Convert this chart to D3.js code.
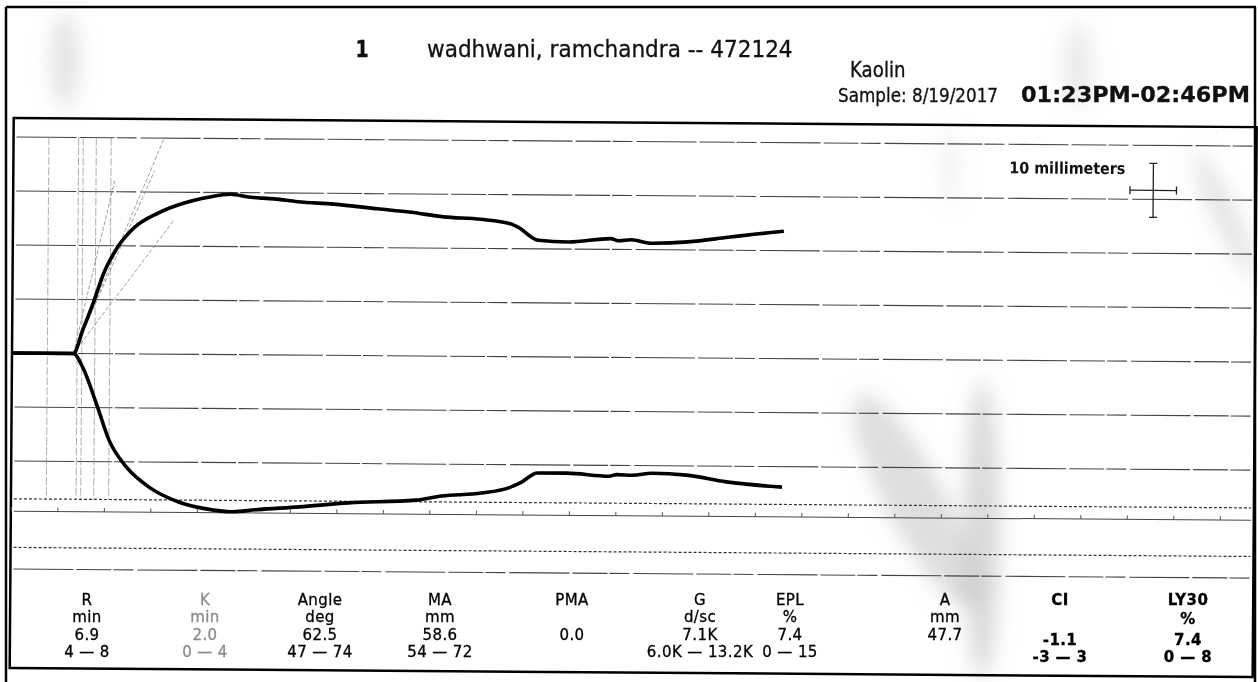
<!DOCTYPE html>
<html>
<head>
<meta charset="utf-8">
<script src="https://cdn.jsdelivr.net/npm/d3@7"></script>
<style>
    body { margin: 0; background: #fff; }
    svg { display: block; }
    text { font-family: "DejaVu Sans", Verdana, sans-serif; fill: #111; }
</style>
</head>
<body>
<svg width="1258" height="682"></svg>
<script>
// trace readings: minutes from start, amplitude in mm (+ up / - down)
const upperTime = [0, 6.6, 7.6, 8.7, 9.8, 11.3, 13.0, 15.6, 18.4, 21.0, 23.4, 25.3, 28.1, 30.6, 34.5, 39.2, 42.8, 46.3, 50.3, 53.5, 54.3, 56.5, 59.7, 64.3, 65.1, 66.5, 68.6, 72.6, 76.9, 79.7, 82.9];
const upperMm   = [0, 0, 4.4, 9.4, 14.9, 19.8, 23.3, 26.1, 28.0, 29.1, 29.7, 29.2, 28.9, 28.4, 28.0, 27.2, 26.6, 25.8, 25.4, 24.6, 24.0, 21.6, 21.3, 22.0, 21.6, 21.8, 21.2, 21.5, 22.4, 23.0, 23.6];
const lowerTime = [0, 6.6, 7.6, 9.1, 10.5, 12.4, 14.8, 18.1, 21.0, 23.8, 26.3, 31.0, 36.3, 43.5, 46.3, 50.6, 53.5, 54.9, 56.6, 59.7, 64.3, 65.1, 66.8, 68.9, 72.6, 76.9, 82.9];
const lowerMm   = [0, 0, -2.5, -9.2, -16.0, -21.0, -24.6, -27.4, -28.6, -29.1, -28.7, -28.1, -27.3, -26.7, -25.9, -25.3, -24.3, -23.2, -21.5, -21.5, -22.0, -21.7, -21.8, -21.4, -21.7, -22.9, -23.8];

// reference lines
const gridMm = [40, 30, 20, 10, 0, -10, -20, -40];
const maRangeMm = [-27, -36];          // dashed MA limits
const timeAxisMm = -29.3;              // line carrying the 5 min ticks
const markerTimes = [3.8, 7.0, 7.5, 8.9, 10.5];
const angleEndTime = [16.2, 15.2, 17.3, 10.9];
const angleEndMm   = [40, 34, 24.8, 32];

// result table
const paramNames  = ["R", "K", "Angle", "MA", "PMA", "G", "EPL", "A", "CI", "LY30"];
const paramUnits  = ["min", "min", "deg", "mm", "", "d/sc", "%", "mm", "", "%"];
const paramValues = ["6.9", "2.0", "62.5", "58.6", "0.0", "7.1K", "7.4", "47.7", "-1.1", "7.4"];
const paramRanges = ["4 \u2014 8", "0 \u2014 4", "47 \u2014 74", "54 \u2014 72", "", "6.0K \u2014 13.2K", "0 \u2014 15", "", "-3 \u2014 3", "0 \u2014 8"];

const svg = d3.select("svg");

// scan smudges
const defs = svg.append("defs");
defs.append("filter").attr("id", "blur")
    .attr("x", "-50%").attr("y", "-50%").attr("width", "200%").attr("height", "200%")
    .append("feGaussianBlur").attr("stdDeviation", 10);
const smudge = svg.append("g").attr("filter", "url(#blur)").attr("fill", "#999");
smudge.append("ellipse").attr("cx", 65).attr("cy", 60).attr("rx", 14).attr("ry", 48).attr("opacity", 0.28);
smudge.append("ellipse").attr("cx", 1078).attr("cy", 65).attr("rx", 14).attr("ry", 42).attr("opacity", 0.22);
smudge.append("ellipse").attr("cx", 1225).attr("cy", 215).attr("rx", 12).attr("ry", 70)
    .attr("transform", "rotate(-25,1225,215)").attr("opacity", 0.28);
smudge.append("ellipse").attr("cx", 950).attr("cy", 165).attr("rx", 7).attr("ry", 40).attr("opacity", 0.18);
smudge.append("ellipse").attr("cx", 915).attr("cy", 500).attr("rx", 30).attr("ry", 120)
    .attr("transform", "rotate(-28,915,500)").attr("opacity", 0.32);
smudge.append("ellipse").attr("cx", 982).attr("cy", 530).attr("rx", 18).attr("ry", 150).attr("opacity", 0.36);

// page frame
const frame = svg.append("g").attr("stroke", "#000").attr("stroke-width", 2.5);
frame.append("line").attr("x1", 6).attr("x2", 1256).attr("y1", 7).attr("y2", 7);
frame.append("line").attr("x1", 6).attr("x2", 6).attr("y1", 7).attr("y2", 682);
frame.append("line").attr("x1", 1255).attr("x2", 1255).attr("y1", 7).attr("y2", 682);

// header (tall, narrow print: small font stretched vertically)
const head = svg.append("g").attr("stroke", "#111").attr("stroke-width", 0.3);
head.append("text").attr("transform", "translate(362,57) scale(1,1.2)").attr("text-anchor", "middle")
    .attr("font-size", 19).attr("font-weight", "bold").text("1");
head.append("text").attr("transform", "translate(427,57) scale(1,1.1)").attr("font-size", 21.6)
    .text("wadhwani, ramchandra -- 472124");
head.append("text").attr("transform", "translate(850,77) scale(1,1.15)").attr("font-size", 18.2)
    .text("Kaolin");
head.append("text").attr("transform", "translate(838,102) scale(1,1.2)").attr("font-size", 16.8)
    .text("Sample: 8/19/2017");
head.append("text").attr("transform", "translate(1021,102) scale(1,1.05)").attr("font-size", 21).attr("font-weight", "bold")
    .attr("textLength", 229).attr("lengthAdjust", "spacingAndGlyphs").text("01:23PM-02:46PM");

// tracing box, slightly skewed like the scan
const g = svg.append("g").attr("transform", "rotate(0.42,12,353)");

const x = d3.scaleLinear().domain([0, 133]).range([12, 12 + 9.3 * 133]);
const y = d3.scaleLinear().domain([-40, 40]).range([353 + 216, 353 - 216]);

g.append("rect").attr("x", 12).attr("y", 118).attr("width", 1243).attr("height", 550)
    .attr("fill", "none").attr("stroke", "#000").attr("stroke-width", 2.5);

// grid
g.selectAll(".grid").data(gridMm).enter().append("line")
    .attr("class", "grid")
    .attr("x1", 15).attr("x2", 1252)
    .attr("y1", d => y(d)).attr("y2", d => y(d))
    .attr("stroke", "#444").attr("stroke-width", 1.1).attr("stroke-dasharray", "60,3,35,2,20,4");

g.selectAll(".ma").data(maRangeMm).enter().append("line")
    .attr("class", "ma")
    .attr("x1", 15).attr("x2", 1252)
    .attr("y1", d => y(d)).attr("y2", d => y(d))
    .attr("stroke", "#333").attr("stroke-width", 1.2).attr("stroke-dasharray", "3,2");

g.append("g")
    .attr("transform", "translate(0," + y(timeAxisMm) + ")")
    .call(d3.axisTop(x).tickValues(d3.range(0, 134, 5)).tickSize(4).tickSizeOuter(0).tickFormat(""))
    .call(a => a.select(".domain").attr("stroke", "#444").attr("d", "M15,0H1252"))
    .call(a => a.selectAll(".tick line").attr("stroke", "#555"));

// R / K markers
g.selectAll(".marker").data(markerTimes).enter().append("line")
    .attr("class", "marker")
    .attr("x1", d => x(d)).attr("x2", d => x(d))
    .attr("y1", y(40)).attr("y2", y(maRangeMm[0]))
    .attr("stroke", "#888").attr("stroke-width", 0.9).attr("stroke-dasharray", "8,2")
    .attr("opacity", 0.75);

// angle lines from the split point
g.selectAll(".angle").data(angleEndTime).enter().append("line")
    .attr("class", "angle")
    .attr("x1", x(upperTime[1])).attr("y1", y(0))
    .attr("x2", d => x(d)).attr("y2", (d, i) => y(angleEndMm[i]))
    .attr("stroke", "#888").attr("stroke-width", 0.8).attr("stroke-dasharray", "4,2");

// tracing
const line = d3.line().x(d => x(d[0])).y(d => y(d[1])).curve(d3.curveMonotoneX);
g.append("path").datum(d3.zip(upperTime, upperMm)).attr("d", line)
    .attr("fill", "none").attr("stroke", "#000").attr("stroke-width", 3.6).attr("stroke-linejoin", "round");
g.append("path").datum(d3.zip(lowerTime, lowerMm)).attr("d", line)
    .attr("fill", "none").attr("stroke", "#000").attr("stroke-width", 3.6).attr("stroke-linejoin", "round");

// 10 mm scale cross
const cx = 1152, cy = 182;
const vHalf = (y(0) - y(10)) / 2, hHalf = (x(5) - x(0)) / 2;
const cross = g.append("g").attr("stroke", "#222").attr("stroke-width", 1.3);
cross.append("line").attr("x1", cx).attr("x2", cx).attr("y1", cy - vHalf).attr("y2", cy + vHalf);
cross.append("line").attr("x1", cx - hHalf).attr("x2", cx + hHalf).attr("y1", cy).attr("y2", cy);
cross.append("line").attr("x1", cx - 4).attr("x2", cx + 4).attr("y1", cy - vHalf).attr("y2", cy - vHalf);
cross.append("line").attr("x1", cx - 4).attr("x2", cx + 4).attr("y1", cy + vHalf).attr("y2", cy + vHalf);
cross.append("line").attr("x1", cx - hHalf).attr("x2", cx - hHalf).attr("y1", cy - 4).attr("y2", cy + 4);
cross.append("line").attr("x1", cx + hHalf).attr("x2", cx + hHalf).attr("y1", cy - 4).attr("y2", cy + 4);
g.append("text").attr("x", 1008).attr("y", 166).attr("font-size", 16).attr("font-weight", 600)
    .attr("textLength", 116).attr("lengthAdjust", "spacingAndGlyphs").text("10 millimeters");

// result table (printed flat, not skewed)
const colX = [87, 205, 320, 440, 572, 700, 790, 945, 1060, 1188];
const rowY = [604.5, 622, 639.5, 657];
const boldCols = ["CI", "LY30"];
const rows = [paramNames, paramUnits, paramValues, paramRanges];
rows.forEach((row, r) => {
    svg.selectAll(".row" + r).data(row).enter().append("text")
        .attr("class", "row" + r)
        .attr("x", (d, i) => colX[i])
        .attr("y", (d, i) => rowY[r] + (i >= 8 && r >= 2 ? 5 : (i === 9 && r === 1 ? 1.5 : 0)))
        .attr("text-anchor", "middle")
        .attr("font-size", 15)
        .attr("letter-spacing", 0.4)
        .attr("font-weight", (d, i) => boldCols.includes(paramNames[i]) ? "bold" : "normal")
        .attr("stroke", (d, i) => i === 1 ? "#8a8a8a" : "#000")
        .attr("stroke-width", 0.3)
        .style("fill", (d, i) => i === 1 ? "#8a8a8a" : "#000")
        .text(d => d);
});
</script>
</body>
</html>
